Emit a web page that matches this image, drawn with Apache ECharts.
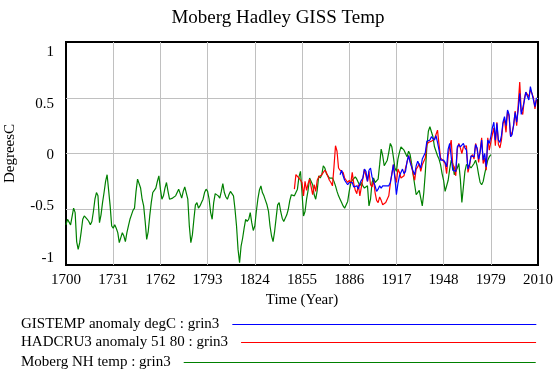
<!DOCTYPE html>
<html><head><meta charset="utf-8">
<script src="https://cdn.jsdelivr.net/npm/echarts@6/dist/echarts.min.js"></script>
<style>html,body{margin:0;padding:0;background:#fff}#c{width:556px;height:375px}</style>
</head><body><div id="c"></div>
<script>
// ---- data ----
const BASE_YEAR = 1700;
const END_YEAR = 2010;
const X_TICK_STEP = 31; // 1700,1731,...,2010
const yTickLabels = [-1, -0.5, 0, 0.5, 1];

const titleText = 'Moberg Hadley GISS Temp';
const xAxisName = 'Time (Year)';
const yAxisName = 'DegreesC';

const gissName = 'GISTEMP anomaly degC : grin3';
const hadName = 'HADCRU3 anomaly 51 80 : grin3';
const mobName = 'Moberg NH temp : grin3';

const mobergStart = 1700;
const mobergValues = [
-0.64,-0.59,-0.59,-0.64,-0.65,-0.49,-0.53,-0.79,-0.86,-0.80,
-0.70,-0.59,-0.56,-0.56,-0.59,-0.61,-0.64,-0.61,-0.52,-0.41,
-0.35,-0.38,-0.62,-0.55,-0.44,-0.35,-0.25,-0.19,-0.20,-0.47,
-0.65,-0.67,-0.64,-0.67,-0.71,-0.80,-0.80,-0.71,-0.74,-0.79,
-0.71,-0.65,-0.59,-0.55,-0.51,-0.49,-0.34,-0.23,-0.23,-0.31,
-0.41,-0.47,-0.61,-0.77,-0.70,-0.56,-0.44,-0.35,-0.33,-0.31,
-0.25,-0.20,-0.32,-0.41,-0.38,-0.31,-0.26,-0.34,-0.41,-0.40,
-0.40,-0.41,-0.38,-0.37,-0.32,-0.31,-0.40,-0.34,-0.30,-0.31,
-0.41,-0.65,-0.80,-0.73,-0.59,-0.46,-0.44,-0.49,-0.47,-0.44,
-0.41,-0.35,-0.32,-0.34,-0.41,-0.53,-0.59,-0.44,-0.36,-0.37,
-0.38,-0.40,-0.34,-0.27,-0.35,-0.39,-0.41,-0.37,-0.34,-0.34,
-0.38,-0.50,-0.65,-0.86,-0.98,-0.83,-0.76,-0.67,-0.59,-0.61,
-0.59,-0.53,-0.62,-0.69,-0.65,-0.52,-0.41,-0.33,-0.29,-0.35,
-0.38,-0.42,-0.46,-0.52,-0.65,-0.74,-0.79,-0.70,-0.58,-0.46,
-0.44,-0.52,-0.58,-0.61,-0.60,-0.55,-0.50,-0.42,-0.37,-0.37,
-0.38,-0.35,-0.32,-0.21,-0.16,-0.35,-0.56,-0.52,-0.41,-0.33,
-0.22,-0.21,-0.28,-0.37,-0.41,-0.33,-0.20,-0.22,-0.19,-0.11,
-0.13,-0.18,-0.20,-0.22,-0.22,-0.22,-0.25,-0.29,-0.34,-0.38,
-0.41,-0.44,-0.47,-0.49,-0.50,-0.43,-0.34,-0.27,-0.24,-0.25,
-0.21,-0.23,-0.26,-0.29,-0.26,-0.29,-0.31,-0.32,-0.29,-0.47,
-0.41,-0.26,-0.22,-0.26,-0.26,-0.23,-0.10,0.04,-0.02,-0.11,
-0.10,-0.06,0.01,0.09,0.06,-0.03,-0.13,-0.16,-0.05,0.01,
0.06,0.07,0.03,0.00,-0.03,0.02,-0.01,-0.09,-0.19,-0.28,
-0.37,-0.37,-0.33,-0.40,-0.47,-0.35,-0.17,0.06,0.20,0.24,
0.23,0.15,0.06,0.02,-0.02,-0.05,-0.10,-0.18,-0.24,-0.34,
-0.35,-0.24,-0.14,-0.06,-0.09,-0.19,-0.18,-0.13,-0.09,-0.23,
-0.44,-0.30,-0.16,-0.10,-0.10,-0.11,-0.13,-0.12,-0.09,-0.06,
-0.11,-0.19,-0.26,-0.28,-0.25,-0.18,-0.12,-0.06,-0.03,-0.01
];

const hadcruStart = 1850;
const hadcruValues = [
-0.32,-0.19,-0.19,-0.22,-0.21,-0.26,-0.38,-0.25,-0.33,-0.27,
-0.23,-0.30,-0.37,-0.28,-0.34,-0.24,-0.21,-0.21,-0.19,-0.17,
-0.15,-0.17,-0.16,-0.24,-0.26,-0.29,-0.12,0.07,0.02,-0.13,
-0.15,-0.15,-0.17,-0.22,-0.24,-0.26,-0.24,-0.27,-0.17,-0.27,
-0.33,-0.36,-0.28,-0.38,-0.30,-0.22,-0.14,-0.20,-0.25,-0.16,
-0.28,-0.30,-0.24,-0.35,-0.42,-0.44,-0.39,-0.42,-0.46,-0.45,
-0.44,-0.45,-0.38,-0.27,-0.18,-0.10,-0.20,-0.26,-0.14,-0.17,
-0.22,-0.23,-0.20,-0.13,-0.08,-0.02,-0.06,-0.12,-0.18,-0.24,
-0.14,-0.12,-0.09,-0.16,-0.10,-0.07,-0.04,0.08,0.10,0.09,
0.11,0.12,0.13,0.17,0.21,0.08,-0.04,-0.05,-0.07,-0.09,
-0.18,-0.02,0.06,0.12,-0.10,-0.12,-0.20,0.04,0.09,0.05,
0.00,0.06,0.06,0.07,-0.17,-0.11,-0.03,-0.01,-0.05,0.09,
0.04,-0.08,0.03,0.14,-0.09,-0.04,-0.15,0.14,0.03,0.10,
0.17,0.23,0.07,0.28,0.08,0.05,0.12,0.27,0.30,0.19,
0.38,0.33,0.15,0.19,0.25,0.38,0.25,0.44,0.64,0.38,
0.35,0.49,0.55,0.56,0.51,0.57,0.54,0.50,0.40,0.48
];

const gissStart = 1880;
const gissValues = [
-0.19,-0.15,-0.20,-0.24,-0.25,-0.28,-0.26,-0.27,-0.26,-0.30,
-0.31,-0.29,-0.32,-0.27,-0.24,-0.22,-0.14,-0.16,-0.25,-0.15,
-0.13,-0.21,-0.25,-0.29,-0.34,-0.32,-0.29,-0.31,-0.29,-0.30,
-0.29,-0.28,-0.29,-0.26,-0.19,-0.10,-0.22,-0.37,-0.27,-0.20,
-0.19,-0.14,-0.18,-0.16,-0.07,-0.02,-0.08,-0.12,-0.16,-0.19,
-0.11,-0.07,-0.06,-0.13,-0.05,-0.06,0.01,0.11,0.10,0.12,
0.15,0.14,0.12,0.16,0.10,0.03,-0.06,-0.05,-0.06,-0.08,
-0.12,0.04,0.09,0.10,-0.15,-0.16,-0.16,0.06,0.08,0.06,
0.05,0.09,0.05,0.03,-0.14,-0.10,-0.02,-0.02,-0.03,0.08,
0.05,-0.05,0.01,0.12,-0.06,0.00,-0.12,0.12,0.09,0.15,
0.23,0.28,0.12,0.27,0.12,0.10,0.16,0.28,0.33,0.25,
0.39,0.35,0.15,0.17,0.26,0.37,0.28,0.39,0.54,0.35,
0.34,0.47,0.55,0.55,0.48,0.60,0.54,0.55,0.42,0.50
];

const seriesColors = { giss: '#0000ff', had: '#ff0000', mob: '#008000' };

// ---- build ----
const FONT = 'Liberation Serif';
function toPoints(start, vals) {
  return vals.map((v, i) => [start + i - BASE_YEAR, v]);
}
const mc = document.createElement('canvas').getContext('2d');
mc.font = '15px "' + FONT + '"';
const LINE_END = 536, LEGEND_LEFT = 21, TEXT_PAD = 8;
function legendFor(name, color, top) {
  const w = mc.measureText(name).width;
  const iw = Math.round(LINE_END - (LEGEND_LEFT + w + 5 + TEXT_PAD));
  return {
    show: true,
    data: [name],
    left: LEGEND_LEFT, top: top, padding: 0,
    align: 'right', orient: 'horizontal', selectedMode: false,
    itemHeight: 14, itemWidth: iw, itemGap: 0,
    itemStyle: { opacity: 0 },
    lineStyle: { color: color, width: 1, opacity: 1, type: 'solid' },
    textStyle: { fontFamily: FONT, fontSize: 15, color: '#000', padding: [0, TEXT_PAD, 0, 0] }
  };
}

const chart = echarts.init(document.getElementById('c'), null, { renderer: 'canvas' });
chart.setOption({
  animation: false,
  backgroundColor: '#fff',
  title: {
    text: titleText, left: 'center', top: 4,
    textStyle: { fontFamily: FONT, fontSize: 19, fontWeight: 'normal', color: '#000' }
  },
  legend: [
    legendFor(gissName, seriesColors.giss, 317),
    legendFor(hadName, seriesColors.had, 335),
    legendFor(mobName, seriesColors.mob, 355)
  ],
  grid: {
    left: 66, right: 18, top: 42, bottom: 110, outerBoundsMode: 'none', containLabel: false,
    show: true, borderColor: '#000', borderWidth: 2, backgroundColor: 'transparent'
  },
  xAxis: {
    type: 'value', min: 0, max: END_YEAR - BASE_YEAR, interval: X_TICK_STEP,
    name: xAxisName, nameLocation: 'middle', nameGap: 25,
    nameTextStyle: { fontFamily: FONT, fontSize: 15, color: '#000' },
    axisLine: { show: false, onZero: false },
    axisTick: { show: false },
    axisLabel: {
      fontFamily: FONT, fontSize: 15, color: '#000', margin: 8,
      formatter: v => String(v + BASE_YEAR)
    },
    splitLine: { show: true, showMinLine: false, showMaxLine: false, lineStyle: { color: '#c0c0c0', width: 1 } }
  },
  yAxis: [{
    type: 'value', position: 'left', min: -1, max: 1, interval: 0.5,
    name: yAxisName, nameLocation: 'middle', nameGap: 48, nameMoveOverlap: false,
    nameTextStyle: { fontFamily: FONT, fontSize: 15, color: '#000' },
    axisLine: { show: false, onZero: false },
    axisTick: { show: false },
    axisLabel: { show: false },
    splitLine: { show: true, showMinLine: false, showMaxLine: false, lineStyle: { color: '#c0c0c0', width: 1 } }
  }, {
    type: 'value', position: 'left', min: -1.07, max: 1.1,
    axisLine: { show: false, onZero: false },
    axisTick: { show: false },
    splitLine: { show: false },
    axisLabel: {
      fontFamily: FONT, fontSize: 15, color: '#000', margin: 12,
      customValues: yTickLabels, formatter: v => String(v)
    }
  }],
  series: [
    { name: mobName, type: 'line', data: toPoints(mobergStart, mobergValues), showSymbol: false, symbol: 'none',
      color: seriesColors.mob, lineStyle: { color: seriesColors.mob, width: 1.2 }, z: 2 },
    { name: hadName, type: 'line', data: toPoints(hadcruStart, hadcruValues), showSymbol: false, symbol: 'none',
      color: seriesColors.had, lineStyle: { color: seriesColors.had, width: 1.2 }, z: 3 },
    { name: gissName, type: 'line', data: toPoints(gissStart, gissValues), showSymbol: false, symbol: 'none',
      color: seriesColors.giss, lineStyle: { color: seriesColors.giss, width: 1.2 }, z: 4 }
  ]
});
</script></body></html>
